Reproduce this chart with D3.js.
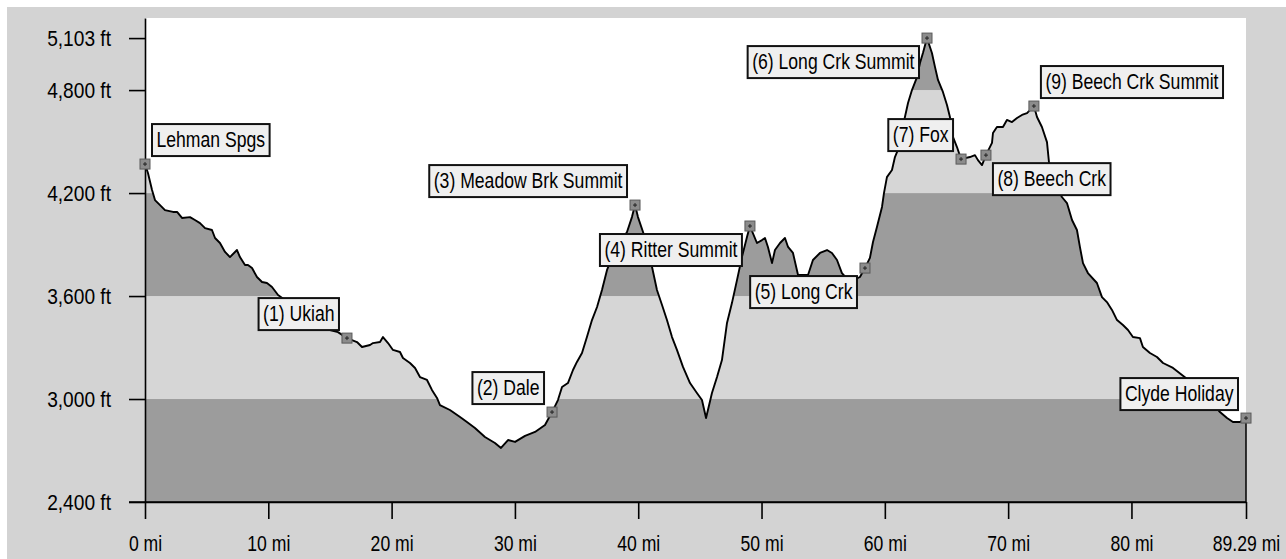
<!DOCTYPE html>
<html><head><meta charset="utf-8">
<script src="https://cdn.jsdelivr.net/npm/d3@7"></script>
<style>
html,body{margin:0;padding:0;background:#fff;}
svg{display:block;}
text{font-family:"Liberation Sans",Arial,sans-serif;font-size:22px;fill:#000;}
</style></head><body>
<svg id="chart" width="1286" height="559"></svg>
<script>
// ---- data (miles, feet) ----
const miles = [0.00,0.24,0.57,0.81,1.22,1.62,2.27,2.60,3.00,3.65,4.05,4.46,4.87,5.43,5.68,6.08,6.49,6.89,7.46,7.70,8.11,8.35,8.68,9.08,9.49,9.89,10.30,10.79,11.35,12.16,12.98,13.79,14.35,15.00,15.65,16.38,17.19,17.60,18.25,18.49,19.06,19.30,19.71,20.11,20.68,20.92,21.49,21.90,22.30,22.87,23.27,23.68,23.92,24.73,25.55,26.11,26.76,27.57,28.38,28.87,29.44,30.01,30.82,31.63,32.44,33.01,33.49,33.82,34.30,34.71,35.03,35.44,35.84,36.25,36.66,37.06,37.47,37.87,38.28,38.68,39.09,39.49,39.74,39.98,40.39,40.79,41.12,41.52,41.93,42.33,42.74,43.14,43.63,44.20,44.76,45.17,45.50,45.98,46.39,46.79,47.20,47.60,48.01,48.41,48.82,49.06,49.63,50.04,50.28,50.52,50.85,51.09,51.50,51.90,52.15,52.55,52.96,53.77,54.17,54.74,55.31,55.71,56.12,56.52,57.17,57.98,58.39,58.79,59.04,59.36,59.77,59.93,60.17,60.58,60.82,61.06,61.31,61.63,61.88,62.20,62.61,62.85,63.09,63.42,63.82,64.07,64.31,64.71,65.04,65.28,65.53,65.85,66.18,66.90,67.31,67.55,67.88,68.20,68.69,68.77,69.09,69.58,69.90,70.31,70.72,71.12,71.53,71.93,72.09,72.34,72.74,73.15,73.31,73.64,74.04,74.36,74.77,75.18,75.58,75.82,76.07,76.47,77.20,77.61,78.01,78.42,78.83,79.31,79.72,80.12,80.69,80.93,81.50,82.07,82.56,83.37,84.10,85.15,86.37,87.18,87.75,88.23,88.80,89.29];
const elevation = [4369,4317,4218,4159,4130,4101,4090,4090,4055,4060,4043,4025,3996,3985,3938,3909,3857,3827,3868,3827,3781,3781,3763,3711,3682,3676,3653,3606,3577,3519,3489,3449,3420,3402,3390,3355,3332,3303,3315,3326,3332,3361,3326,3286,3274,3239,3210,3181,3128,3111,3053,3006,2965,2936,2895,2866,2831,2779,2744,2715,2761,2750,2785,2808,2849,2924,2994,3070,3093,3169,3216,3268,3361,3460,3536,3635,3752,3822,3886,3926,3973,4060,4130,4060,3973,3868,3769,3635,3548,3460,3361,3286,3187,3093,3035,2994,2889,3035,3128,3227,3443,3559,3693,3827,3944,4008,3909,3926,3938,3886,3792,3868,3909,3938,3886,3851,3723,3723,3810,3851,3868,3851,3810,3734,3682,3711,3763,3822,3915,4002,4119,4200,4293,4334,4410,4451,4538,4643,4725,4800,4876,4958,5016,5103,5016,4934,4859,4789,4713,4643,4526,4468,4398,4410,4421,4392,4363,4421,4492,4550,4585,4585,4626,4614,4637,4655,4666,4695,4707,4643,4585,4497,4381,4305,4229,4177,4142,4043,3985,3886,3792,3734,3676,3594,3565,3519,3460,3431,3402,3361,3355,3303,3268,3245,3210,3181,3140,3082,2994,2924,2889,2866,2866,2889];

const waypointNames = ["Lehman Spgs","(1) Ukiah","(2) Dale","(3) Meadow Brk Summit","(4) Ritter Summit","(5) Long Crk","(6) Long Crk Summit","(7) Fox","(8) Beech Crk","(9) Beech Crk Summit","Clyde Holiday"];
const waypointMiles = [0.00,16.38,33.01,39.74,49.06,58.39,63.42,66.18,68.20,72.09,89.29];
const waypointElev  = [4369,3355,2924,4130,4008,3763,5103,4398,4421,4707,2889];

const bandBreaks = [2400,3000,3600,4200,4800,5220];
const yTicks = [2400,3000,3600,4200,4800,5103];
const xTicks = [0,10,20,30,40,50,60,70,80,89.29];
const totalMiles = 89.29;

// ---- layout (kept separate from data) ----
const labelSide = ["ne","nw","nw","nw","sw","sw","sw","nw","se","ne","nw"];
const W = 1286, H = 559;
const plot = {left:145, right:1246, top:18, bottom:502};

function narrow(sel, k){
  sel.each(function(){
    const w = this.getComputedTextLength();
    d3.select(this).attr("textLength", w*k).attr("lengthAdjust","spacingAndGlyphs");
  });
}

const svg = d3.select("#chart");
svg.append("rect").attr("x",7).attr("y",7).attr("width",W-7).attr("height",H-7).attr("fill","#d3d3d3");
svg.append("rect").attr("x",plot.left).attr("y",plot.top).attr("width",plot.right-plot.left).attr("height",plot.bottom-plot.top).attr("fill","#ffffff");

const x = d3.scaleLinear().domain([0,totalMiles]).range([plot.left,plot.right]);
const y = d3.scaleLinear().domain([bandBreaks[0],bandBreaks[bandBreaks.length-1]]).range([plot.bottom,plot.top]);

const pts = miles.map((m,i)=>[m,elevation[i]]);
const area = d3.area().x(d=>x(d[0])).y0(y(bandBreaks[0])).y1(d=>y(d[1]));
const line = d3.line().x(d=>x(d[0])).y(d=>y(d[1]));

svg.append("clipPath").attr("id","profileClip").append("path").attr("d",area(pts));
const bands = svg.append("g").attr("clip-path","url(#profileClip)");
for(let i=0;i<bandBreaks.length-1;i++){
  bands.append("rect")
    .attr("x",plot.left).attr("width",plot.right-plot.left)
    .attr("y",y(bandBreaks[i+1])).attr("height",y(bandBreaks[i])-y(bandBreaks[i+1]))
    .attr("fill", i%2===0 ? "#9c9c9c" : "#d6d6d6");
}
svg.append("path").attr("d",line(pts)).attr("fill","none").attr("stroke","#000").attr("stroke-width",1.9).attr("stroke-linejoin","round");
svg.append("line").attr("x1",x(totalMiles)).attr("x2",x(totalMiles))
  .attr("y1",y(elevation[elevation.length-1])).attr("y2",plot.bottom)
  .attr("stroke","#000").attr("stroke-width",1.5);

// axes
const yAxis = d3.axisLeft(y).tickValues(yTicks).tickSize(16).tickSizeOuter(0).tickPadding(18)
  .tickFormat(d=>d3.format(",")(d)+" ft");
const gy = svg.append("g").attr("transform",`translate(${plot.left},0)`).call(yAxis);
const xAxis = d3.axisBottom(x).tickValues(xTicks).tickSize(17).tickSizeOuter(0).tickPadding(16)
  .tickFormat(d=>(d===totalMiles? d3.format(".2f")(d) : d)+" mi");
const gx = svg.append("g").attr("transform",`translate(0,${plot.bottom})`).call(xAxis);
[gx,gy].forEach(g=>{
  g.selectAll("path.domain").attr("stroke","#000").attr("stroke-width",1.6);
  g.selectAll(".tick line").attr("stroke","#000").attr("stroke-width",1.6);
  g.attr("font-family",null).attr("font-size",null);
  g.selectAll("text").style("font-size","22px").attr("fill","#000");
});
gx.selectAll("text").call(narrow, 0.8);
gy.selectAll("text").call(narrow, 0.87);
svg.append("line").attr("x1",plot.left-16).attr("x2",plot.right).attr("y1",plot.bottom).attr("y2",plot.bottom).attr("stroke","#000").attr("stroke-width",1.6);

// waypoints
const wg = svg.append("g");
waypointNames.forEach((name,i)=>{
  const mx = x(waypointMiles[i]), my = y(waypointElev[i]);
  const side = labelSide[i];
  const g = wg.append("g");
  const t = g.append("text").text(name);
  const tw = t.node().getComputedTextLength()*0.8;
  t.attr("textLength",tw).attr("lengthAdjust","spacingAndGlyphs");
  const bw = tw + 9, bh = 32, gap = 8;
  const bx = side[1]==="e" ? mx + gap - 1 : mx - gap - bw;
  const by = side[0]==="n" ? my - gap - bh : my + gap;
  g.insert("rect","text").attr("x",bx).attr("y",by).attr("width",bw).attr("height",bh)
    .attr("fill","#efefef").attr("stroke","#111").attr("stroke-width",2);
  t.attr("x",bx+4.5).attr("y",by+23);
  const m = wg.append("g").attr("transform",`translate(${mx},${my})`);
  m.append("rect").attr("x",-5).attr("y",-5).attr("width",10).attr("height",10).attr("fill","#8c8c8c").attr("stroke","#5a5a5a").attr("stroke-width",1);
  m.append("path").attr("d","M-2,0H2M0,-2V2").attr("stroke","#222").attr("stroke-width",1);
});
</script>
</body></html>
